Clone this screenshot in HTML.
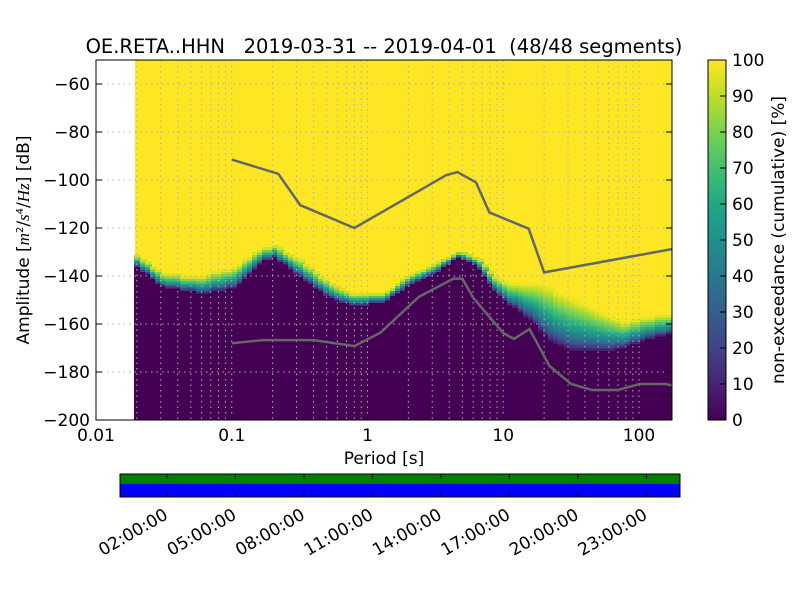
<!DOCTYPE html>
<html><head><meta charset="utf-8"><style>
body{margin:0;background:#fff;width:800px;height:600px;overflow:hidden;font-family:"Liberation Sans","DejaVu Sans",sans-serif}
svg text{font-family:"DejaVu Sans","Liberation Sans",sans-serif;fill:#000;white-space:pre}
</style></head><body>
<svg id="c" width="800" height="600" xmlns="http://www.w3.org/2000/svg"></svg>
<script>
// ---- data ----
const periodsLog = [-1.713,-1.52,-1.24,-1.0,-0.8,-0.7,-0.5,-0.28,-0.1,0.1,0.3,0.53,0.66,0.79,0.94,1.06,1.2,1.34,1.49,1.72,1.86,2.0,2.243];
const lowerDb = [-136,-144.5,-147,-145,-134,-132,-140.5,-149.5,-152,-151,-143.5,-137,-131.5,-136,-147,-153,-159,-167.5,-171,-171,-170,-167,-163.5];
const upperDb = [-131.5,-139,-140,-136,-128.5,-127,-133.5,-143,-147.5,-147.5,-139,-133.5,-129.5,-132,-141,-143,-142.5,-144.5,-149.5,-155.5,-159.5,-157.5,-155.5];
const nhnmT = [0.1,0.22,0.32,0.8,3.8,4.6,6.3,7.9,15.4,20,175];
const nhnmDb = [-91.5,-97.4,-110.5,-120,-98,-96.7,-101,-113.5,-120.3,-138.5,-128.8];
const nlnmT = [0.1,0.17,0.4,0.8,1.24,2.4,4.3,5.0,6.0,10,12,15.6,21.9,31.6,45,70,101,154,175];
const nlnmDb = [-168,-166.7,-166.7,-169.2,-163.7,-148.6,-141.1,-141.1,-149,-163.8,-166.2,-162.1,-177.5,-185,-187.5,-187.5,-185,-185,-185.5];
const yTicks = [-60,-80,-100,-120,-140,-160,-180,-200];
const xTicks = [0.01,0.1,1,10,100];
const xTickLabels = ["0.01","0.1","1","10","100"];
const cbTicks = [0,10,20,30,40,50,60,70,80,90,100];
const timeTicks = ["02:00:00","05:00:00","08:00:00","11:00:00","14:00:00","17:00:00","20:00:00","23:00:00"];
const timeHours = [2,5,8,11,14,17,20,23];

const NS="http://www.w3.org/2000/svg";
const svg=document.getElementById('c');
function mk(tag,attrs,parent,name,inter){const e=document.createElementNS(NS,tag);for(const k in attrs)e.setAttribute(k,attrs[k]);(parent||svg).appendChild(e);


return e;}
const L=96,R=672,T=60,B=420;
const xs=lt=>L+(lt+2)*135.75;
const ys=db=>T+(-50-db)*2.4;
const vir=[[68,1,84],[72,35,116],[64,67,135],[52,94,141],[41,120,142],[32,144,140],[34,167,132],[68,190,112],[121,209,81],[189,222,38],[253,231,37]];
function cmap(t){t=Math.max(0,Math.min(1,t));const f=t*10,i=Math.min(9,Math.floor(f)),u=f-i;const a=vir[i],b=vir[i+1];return `rgb(${a.map((v,k)=>Math.round(v+(b[k]-v)*u)).join(',')})`;}
function interp(xa,ya,x){if(x<=xa[0])return ya[0];for(let i=1;i<xa.length;i++){if(x<=xa[i]){const u=(x-xa[i-1])/(xa[i]-xa[i-1]);return ya[i-1]+u*(ya[i]-ya[i-1]);}}return ya[ya.length-1];}

const defs=mk('defs',{},svg,'defs');
const cp=mk('clipPath',{id:'pc'},defs,'clip');
mk('rect',{x:L,y:T,width:R-L,height:B-T},cp,'clip-rect');
const g=mk('g',{'clip-path':'url(#pc)','shape-rendering':'crispEdges'},svg,'heatmap');
const x0=xs(periodsLog[0]);
mk('rect',{x:x0,y:T,width:R-x0,height:B-T,fill:cmap(1)},g,'heatmap-background');
const dlog=Math.log10(2)/8;
for(let lt=periodsLog[0];lt<2.3;lt+=dlog){
  const lo=Math.round(interp(periodsLog,lowerDb,lt)),hi=Math.round(interp(periodsLog,upperDb,lt));
  const xa=Math.floor(xs(lt)),w=Math.ceil(dlog*135.75)+1;
  mk('rect',{x:xa,y:ys(lo),width:w,height:B-ys(lo),fill:cmap(0)},g,'heatmap-column-base');
  for(let d=lo;d<hi;d++){const t=Math.pow((d-lo+0.5)/(hi-lo),0.7);
    mk('rect',{x:xa,y:ys(d+1),width:w,height:3,fill:cmap(t)},g,'heatmap-cell');}
}
for(let dec=-2;dec<=2;dec++)for(let m=1;m<10;m++){const lt=dec+Math.log10(m);if(lt>2.243)continue;const x=xs(lt);
  mk('line',{x1:x,x2:x,y1:T,y2:B,stroke:'#b0b0b0','stroke-dasharray':'1.5,4','stroke-width':1},svg,'x-grid-line');}
yTicks.forEach(v=>{const y=ys(v);mk('line',{x1:L,x2:R,y1:y,y2:y,stroke:'#b0b0b0','stroke-dasharray':'1.5,4'},svg,'y-grid-line');});
function poly(tA,dA,name){mk('polyline',{points:tA.map((t,i)=>xs(Math.log10(t))+','+ys(dA[i])).join(' '),fill:'none',stroke:'#666','stroke-width':2.5,'clip-path':'url(#pc)'},svg,name);}
poly(nhnmT,nhnmDb,'nhnm-line');poly(nlnmT,nlnmDb,'nlnm-line');
mk('rect',{x:L,y:T,width:R-L,height:B-T,fill:'none',stroke:'#000'},svg,'plot-frame');
yTicks.forEach(v=>{const y=ys(v);mk('line',{x1:L,x2:L+6,y1:y,y2:y,stroke:'#000'},svg,'y-tick');mk('line',{x1:R-6,x2:R,y1:y,y2:y,stroke:'#000'},svg,'y-tick');
  const t=mk('text',{x:L-6,y:y+6,'text-anchor':'end','font-size':17},svg,'y-tick-label');t.textContent='\u2212'+Math.abs(v);});
xTicks.forEach((v,i)=>{const x=xs(Math.log10(v));mk('line',{x1:x,x2:x,y1:B,y2:B-6,stroke:'#000'},svg,'x-tick');
  const t=mk('text',{x:x,y:B+21,'text-anchor':'middle','font-size':17},svg,'x-tick-label');t.textContent=xTickLabels[i];});
let t=mk('text',{x:384,y:53,'text-anchor':'middle','font-size':19.5},svg,'chart-title');t.textContent='OE.RETA..HHN   2019-03-31 -- 2019-04-01  (48/48 segments)';
t=mk('text',{x:384,y:464,'text-anchor':'middle','font-size':17},svg,'x-axis-title');t.textContent='Period [s]';
t=mk('text',{transform:'translate(29,240) rotate(-90)','text-anchor':'middle','font-size':17},svg,'y-axis-title');
t.innerHTML='Amplitude [<tspan font-style="italic" font-family="Liberation Serif">m</tspan><tspan font-size="10" dy="-6">2</tspan><tspan dy="6">/</tspan><tspan font-style="italic" font-family="Liberation Serif">s</tspan><tspan font-size="10" dy="-6">4</tspan><tspan dy="6">/</tspan><tspan font-style="italic" font-family="Liberation Serif">Hz</tspan>] [dB]';
const cbg=mk('linearGradient',{id:'vg',x1:0,y1:1,x2:0,y2:0},defs,'colorbar-gradient');
for(let i=0;i<=20;i++){mk('stop',{offset:i/20,'stop-color':cmap(i/20)},cbg,'gradient-stop');}
mk('rect',{x:708,y:T,width:18,height:B-T,fill:'url(#vg)',stroke:'#000'},svg,'colorbar');
cbTicks.forEach(v=>{const y=B-(v/100)*(B-T);mk('line',{x1:720,x2:726,y1:y,y2:y,stroke:'#000'},svg,'colorbar-tick');
  const tt=mk('text',{x:732,y:y+6,'font-size':17},svg,'colorbar-tick-label');tt.textContent=v;});
t=mk('text',{transform:'translate(784,240) rotate(-90)','text-anchor':'middle','font-size':17},svg,'colorbar-title');t.textContent='non-exceedance (cumulative) [%]';
mk('rect',{x:120,y:474,width:560,height:10,fill:'#008000'},svg,'data-coverage-bar');
mk('rect',{x:120,y:484,width:560,height:13,fill:'#0000ff'},svg,'ppsd-coverage-bar');
mk('rect',{x:120,y:474,width:560,height:23,fill:'none',stroke:'#000'},svg,'timeline-frame');
const hx=h=>121.3+h*22.83;
timeHours.forEach((h,i)=>{const x=hx(h);mk('line',{x1:x,x2:x,y1:474,y2:479,stroke:'#000'},svg,'timeline-tick');mk('line',{x1:x,x2:x,y1:492,y2:497,stroke:'#000'},svg,'timeline-tick');
  const tt=mk('text',{transform:`translate(${x+2},${518}) rotate(-30)`,'text-anchor':'end','font-size':17},svg,'timeline-tick-label');tt.textContent=timeTicks[i];});
</script>
</body></html>
